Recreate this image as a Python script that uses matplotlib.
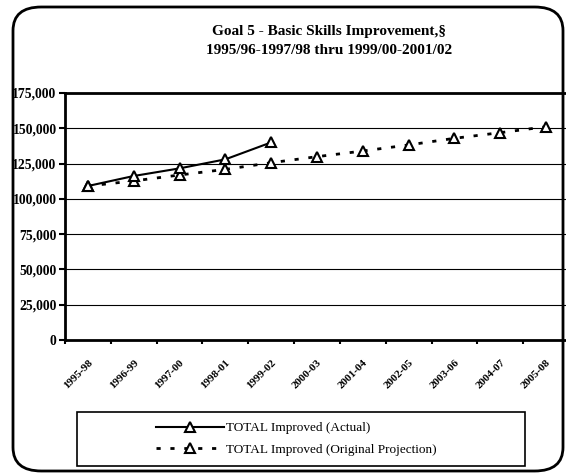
import matplotlib.pyplot as plt
from matplotlib.patches import FancyBboxPatch, Rectangle
from matplotlib.ticker import FuncFormatter, FixedLocator

plt.rcParams['font.family'] = ['Liberation Serif', 'DejaVu Serif']

periods = ["1995-98", "1996-99", "1997-00", "1998-01", "1999-02", "2000-03",
           "2001-04", "2002-05", "2003-06", "2004-07", "2005-08"]
actual = [109100, 116200, 121600, 128000, 140000]
projection = [109100, 112700, 116900, 120900, 125600, 129900,
              133900, 138200, 142900, 146900, 151100]

W, H = 566, 473
fig = plt.figure(figsize=(W / 100, H / 100), dpi=100)

# rounded frame around the whole chart
frame = FancyBboxPatch((13 / W, 2 / H), 550 / W, 464 / H,
                       boxstyle="round,pad=0,rounding_size=0.05",
                       transform=fig.transFigure, fill=False,
                       edgecolor="black", linewidth=2)
fig.patches.append(frame)

ax = fig.add_axes([65 / W, 133 / H, 504 / W, 247 / H])
x = list(range(len(periods)))
ax.plot(x[:len(actual)], actual, color="black", linewidth=1.5, marker="^",
        markersize=7, markerfacecolor="white", markeredgecolor="black",
        markeredgewidth=1.5, label="TOTAL Improved (Actual)", zorder=4)
ax.plot(x, projection, color="black", linewidth=2, linestyle=(0, (1.5, 3.5)),
        marker="^", markersize=7, markerfacecolor="white",
        markeredgecolor="black", markeredgewidth=1.5,
        label="TOTAL Improved (Original Projection)", zorder=3)

ax.set_xlim(-0.5, len(periods) - 0.5)
ax.set_ylim(0, 175000)
ax.set_yticks(range(0, 175001, 25000))
ax.yaxis.set_major_formatter(FuncFormatter(lambda v, p: "{:,.0f}".format(v)))
ax.yaxis.grid(True, color="black", linewidth=0.8)
ax.set_axisbelow(True)

# tick marks between categories, labels on the categories
ax.xaxis.set_major_locator(FixedLocator([i - 0.5 for i in range(len(periods) + 1)]))
ax.xaxis.set_major_formatter(FuncFormatter(lambda v, p: ""))
ax.set_xticks(x, minor=True)
ax.set_xticklabels(periods, minor=True, rotation=45, ha="right",
                   rotation_mode="anchor", fontsize=8, fontweight="bold")
ax.tick_params(axis="x", which="minor", length=0, pad=13)
ax.tick_params(axis="x", which="major", direction="out", length=3, width=1.5)
ax.tick_params(axis="y", direction="out", length=4, width=1.5, pad=2,
               labelsize=9.8)
for lab in ax.get_yticklabels():
    lab.set_fontweight("bold")

for side in ["left", "bottom", "top"]:
    ax.spines[side].set_linewidth(2)
ax.spines["right"].set_visible(False)

fig.text(329 / W, 1 - 32 / H, "Goal 5 - Basic Skills Improvement,\u00a7",
         ha="center", va="center", fontsize=11, fontweight="bold")
fig.text(329 / W, 1 - 50 / H, "1995/96-1997/98 thru 1999/00-2001/02",
         ha="center", va="center", fontsize=11, fontweight="bold")

# legend box drawn separately, entries centred inside it
fig.patches.append(Rectangle((77 / W, 7 / H), 448 / W, 54 / H,
                             transform=fig.transFigure, fill=False,
                             edgecolor="black", linewidth=1.2))
leg = fig.legend(loc="center", bbox_to_anchor=(296 / W, 34 / H),
                 frameon=False, fontsize=9.5, handlelength=5.2,
                 handletextpad=0.1, borderpad=0.0, labelspacing=0.7)

fig.savefig("out.png", dpi=100)
